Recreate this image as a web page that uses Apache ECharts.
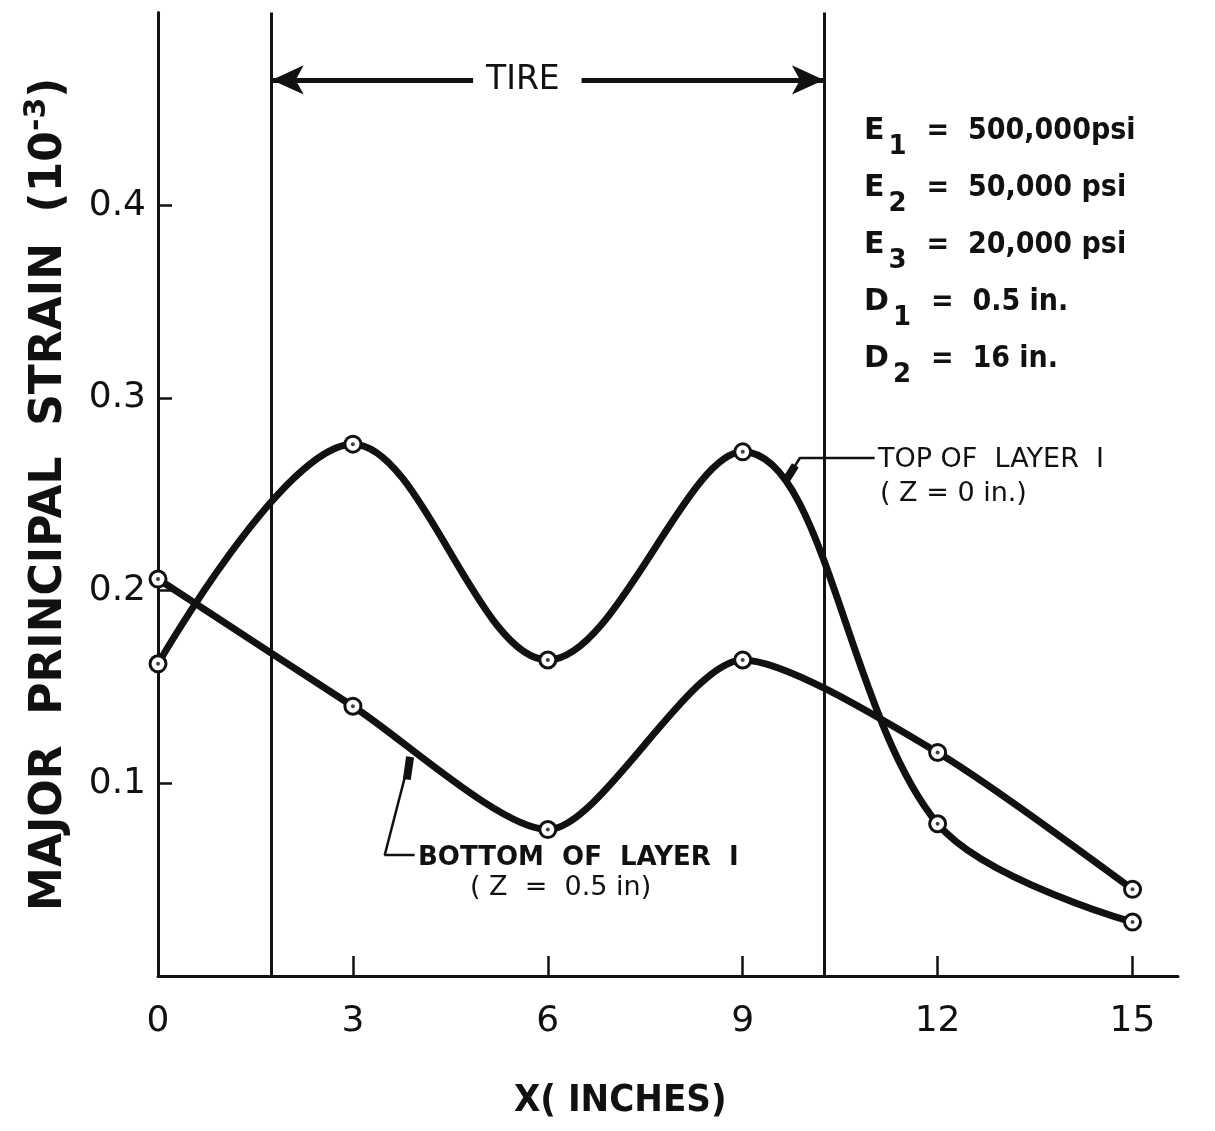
<!DOCTYPE html>
<html>
<head>
<meta charset="utf-8">
<script src="https://cdn.jsdelivr.net/npm/echarts@6/dist/echarts.min.js"></script>
<style>
  html, body { margin: 0; padding: 0; background: #fff; }
  #chartLine { width: 1215px; height: 1131px; }
</style>
</head>
<body>
<div id="chartLine"></div>
<script>
// data
const xInches = [0, 3, 6, 9, 12, 15];
const topOfLayer1 = [0.162, 0.276, 0.164, 0.272, 0.079, 0.028];
const bottomOfLayer1 = [0.206, 0.140, 0.076, 0.164, 0.116, 0.045];
const xTickLabels = [0, 3, 6, 9, 12, 15];
const yTickLabels = [0.1, 0.2, 0.3, 0.4];
const tireEdges = [1.75, 10.25];
const tireArrowY = 0.465;
const tireGap = [4.85, 6.52];

// leader lines for the two curve labels (data coords)
const topLeader = [[9.65, 0.2564], [9.88, 0.2688], [11.03, 0.2688]];
const topLeaderTip = [[9.65, 0.2564], [9.81, 0.2650]];
const bottomLeader = [[3.88, 0.1137], [3.49, 0.0628], [3.95, 0.0628]];
const bottomLeaderTip = [[3.88, 0.1137], [3.83, 0.1020]];

const params = [
  ['E', '1', '=  500,000psi'],
  ['E', '2', '=  50,000 psi'],
  ['E', '3', '=  20,000 psi'],
  ['D', '1', '=  0.5 in.'],
  ['D', '2', '=  16 in.']
];

const ink = '#111';
const pairs = (xs, ys) => xs.map((x, i) => [x, ys[i]]);

let myChart = echarts.init(document.getElementById('chartLine'));

const paramText = params.map(function (p, i) {
  return {
    type: 'text',
    left: 864,
    top: 116 + i * 57,
    style: {
      text: '{m|' + p[0] + '}{s|' + p[1] + '}{e|' + p[2] + '}',
      rich: {
        m: { fontSize: 30, fontWeight: 'bold', fontFamily: 'DejaVu Sans', fill: ink },
        s: { fontSize: 26, fontWeight: 'bold', fontFamily: 'DejaVu Sans', fill: ink, padding: [32, 20, 0, 4] },
        e: { fontSize: 30, fontWeight: 'bold', fontFamily: 'DejaVu Sans Condensed', fill: ink }
      }
    }
  };
});

function leader(name, pts, width) {
  return {
    name: name,
    type: 'line',
    data: pts,
    symbol: 'none',
    silent: true,
    z: 5,
    lineStyle: { color: ink, width: width }
  };
}

myChart.setOption({
  backgroundColor: '#fff',
  animation: false,
  textStyle: { fontFamily: 'DejaVu Sans', color: ink },
  grid: { left: 158, right: 37, top: 12.5, bottom: 155, outerBoundsMode: 'none' },
  xAxis: {
    type: 'value',
    min: 0,
    max: 15.7,
    interval: 3,
    axisLine: { lineStyle: { color: ink, width: 3 } },
    axisTick: { inside: true, length: 20, lineStyle: { color: ink, width: 2.5 }, customValues: xTickLabels.slice(1) },
    axisLabel: { customValues: xTickLabels, color: ink, fontSize: 36, margin: 28 },
    splitLine: { show: false }
  },
  yAxis: {
    type: 'value',
    min: 0,
    max: 0.5,
    interval: 0.1,
    name: '{t|MAJOR  PRINCIPAL  STRAIN  (10}{u|-3}{t|)}',
    nameLocation: 'middle',
    nameRotate: 90,
    nameGap: 80,
    nameTextStyle: {
      rich: {
        t: { fontSize: 44, fontWeight: 'bold', fontFamily: 'DejaVu Sans', color: ink },
        u: { fontSize: 30, fontWeight: 'bold', fontFamily: 'DejaVu Sans', color: ink, padding: [0, 0, 26, 0] }
      }
    },
    axisLine: { lineStyle: { color: ink, width: 3 } },
    axisTick: { inside: true, length: 14, lineStyle: { color: ink, width: 2.5 }, customValues: yTickLabels },
    axisLabel: { customValues: yTickLabels, color: ink, fontSize: 36, margin: 12, formatter: v => v.toFixed(1) },
    splitLine: { show: false }
  },
  series: [
    {
      name: 'Top of layer 1',
      type: 'line',
      data: pairs(xInches, topOfLayer1),
      smooth: 0.35,
      symbol: 'circle',
      symbolSize: 16,
      z: 3,
      lineStyle: { color: ink, width: 7 },
      itemStyle: { color: '#fff', borderColor: ink, borderWidth: 3 },
      markLine: {
        silent: true,
        symbol: ['none', 'arrow'],
        symbolSize: [22, 32],
        label: { show: false },
        lineStyle: { color: ink, width: 5, type: 'solid' },
        data: [
          [{ coord: [tireGap[0], tireArrowY] }, { coord: [tireEdges[0], tireArrowY] }],
          [{ coord: [tireGap[1], tireArrowY] }, { coord: [tireEdges[1], tireArrowY] }]
        ]
      }
    },
    {
      name: 'Bottom of layer 1',
      type: 'line',
      data: pairs(xInches, bottomOfLayer1),
      smooth: 0.25,
      symbol: 'circle',
      symbolSize: 16,
      z: 3,
      lineStyle: { color: ink, width: 7 },
      itemStyle: { color: '#fff', borderColor: ink, borderWidth: 3 },
      markLine: {
        silent: true,
        symbol: 'none',
        label: { show: false },
        lineStyle: { color: ink, width: 3, type: 'solid' },
        data: tireEdges.map(x => ({ xAxis: x }))
      }
    },
    {
      name: 'dots',
      type: 'scatter',
      data: pairs(xInches, topOfLayer1).concat(pairs(xInches, bottomOfLayer1)),
      symbolSize: 4,
      z: 4,
      silent: true,
      itemStyle: { color: ink }
    },
    leader('top leader', topLeader, 2.5),
    leader('top tip', topLeaderTip, 8),
    leader('bottom leader', bottomLeader, 2.5),
    leader('bottom tip', bottomLeaderTip, 8)
  ],
  graphic: [
    {
      type: 'text', left: 486, top: 64,
      style: { text: 'TIRE', fontSize: 33, fontFamily: 'DejaVu Sans', fill: ink }
    },
    {
      type: 'text', left: 878, top: 446,
      style: { text: 'TOP OF  LAYER  I', fontSize: 27, fontFamily: 'DejaVu Sans', fill: ink }
    },
    {
      type: 'text', left: 880, top: 480,
      style: { text: '( Z = 0 in.)', fontSize: 27, fontFamily: 'DejaVu Sans', fill: ink }
    },
    {
      type: 'text', left: 418, top: 845,
      style: { text: 'BOTTOM  OF  LAYER  I', fontSize: 26, fontWeight: 'bold', fontFamily: 'DejaVu Sans', fill: ink }
    },
    {
      type: 'text', left: 470, top: 874,
      style: { text: '( Z  =  0.5 in)', fontSize: 27, fontFamily: 'DejaVu Sans', fill: ink }
    },
    {
      type: 'text', left: 514, top: 1082,
      style: { text: 'X( INCHES)', fontSize: 38, fontWeight: 'bold', fontFamily: 'DejaVu Sans Condensed', fill: ink }
    }
  ].concat(paramText)
});
</script>
</body>
</html>
